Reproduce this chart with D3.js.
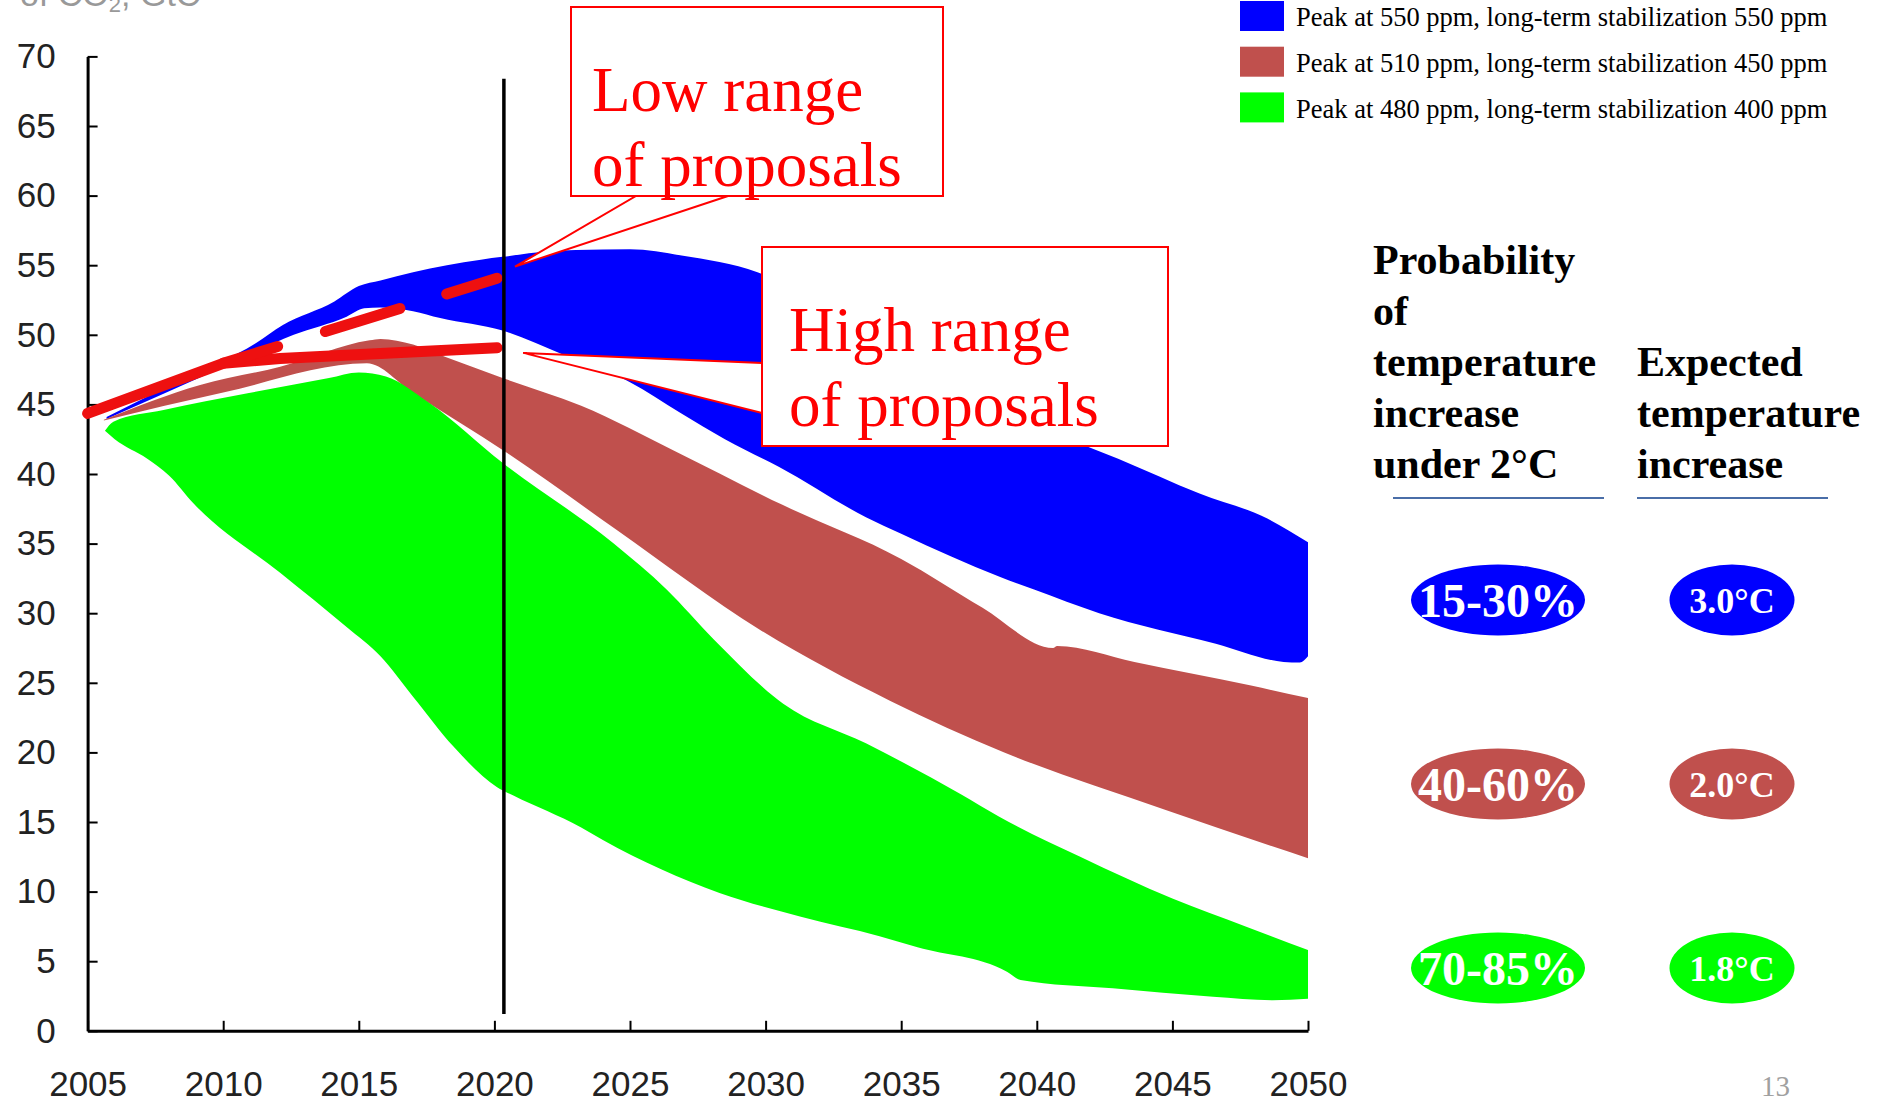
<!DOCTYPE html>
<html>
<head>
<meta charset="utf-8">
<script src="https://cdn.jsdelivr.net/npm/d3@7"></script>
<style>
  body { margin: 0; background: #fff; }
  svg { display: block; }
</style>
</head>
<body>
<svg id="chart" width="1881" height="1100"></svg>
<script>
// ---- Axis ticks ----
const xTicks = [2005, 2010, 2015, 2020, 2025, 2030, 2035, 2040, 2045, 2050];
const yTicks = [0, 5, 10, 15, 20, 25, 30, 35, 40, 45, 50, 55, 60, 65, 70];

// ---- Scenario names and colours ----
const scenarioNames = [
  "Peak at 550 ppm, long-term stabilization 550 ppm",
  "Peak at 510 ppm, long-term stabilization 450 ppm",
  "Peak at 480 ppm, long-term stabilization 400 ppm"
];
const scenarioColors = ["#0000ff", "#c0504d", "#00ff00"];

// ---- Emission corridors: [year, GtC] along upper and lower edges ----
const band550Upper = [[2005.7,44.1],[2008.5,46.8],[2011.2,49.4],[2012.2,50.7],[2014.1,52.4],[2015.0,53.5],[2015.8,53.9],
  [2017.0,54.5],[2019.5,55.4],[2020.3,55.6],[2022.0,56.0],[2023.0,56.1],[2025.0,56.15],[2026.9,55.7],[2029.7,54.5],
  [2032.0,52.4],[2035.0,49.2],[2038.0,45.8],[2040.0,43.8],[2041.6,42.2],[2043.0,41.1],[2046.0,38.6],
  [2048.5,36.8],[2050.0,35.1]];
const band550Lower = [[2005.7,43.95],[2009.9,47.6],[2012.6,50.0],[2014.55,51.3],[2015.2,51.9],[2015.8,51.97],[2017.0,51.7],
  [2018.0,51.2],[2020.3,50.3],[2022.5,48.6],[2025.0,46.6],[2026.85,44.4],[2028.5,42.5],[2030.5,40.5],[2033.7,36.9],
  [2035.0,35.7],[2038.65,32.6],[2039.9,31.7],[2042.3,30.0],[2046.6,27.8],[2049.1,26.5],[2049.7,26.45],[2050.0,26.9]];

const band450Upper = [[2005.6,43.9],[2009.15,46.4],[2012.1,47.7],[2015.4,49.6],[2015.8,49.7],[2017.0,49.3],[2018.2,48.4],
  [2020.3,46.9],[2023.2,44.9],[2026.7,41.6],[2030.6,37.8],[2035.0,33.9],[2038.0,30.4],[2040.6,27.5],
  [2040.75,27.65],[2043.6,26.5],[2047.9,24.8],[2050.0,23.9]];
const band450Lower = [[2005.6,43.85],[2010.0,45.85],[2015.3,47.95],[2017.0,45.8],[2020.4,41.6],[2024.5,36.0],
  [2029.8,28.8],[2034.6,23.7],[2038.8,20.0],[2044.7,15.9],[2050.0,12.4]];

const band400Upper = [[2005.64,43.1],[2005.95,43.76],[2007.8,44.6],[2010.9,45.8],[2013.9,46.9],[2015.0,47.3],[2016.0,47.0],
  [2017.6,45.1],[2020.3,40.8],[2024.4,35.0],[2026.35,31.7],[2028.1,28.1],[2030.65,23.5],[2033.7,20.65],[2037.2,17.0],
  [2038.6,15.4],[2041.6,12.5],[2045.0,9.5],[2047.7,7.5],[2050.0,5.8]];
const band400Lower = [[2005.64,43.1],[2006.0,42.5],[2007.2,41.1],[2008.0,39.9],[2008.9,37.9],[2012.1,32.9],[2014.55,29.0],
  [2015.8,26.9],[2017.0,24.0],[2018.5,20.4],[2020.1,17.5],[2020.7,16.9],[2023.2,14.6],[2024.0,13.7],[2028.3,9.9],
  [2031.3,8.2],[2034.2,6.8],[2035.6,6.0],[2038.9,4.25],[2039.4,3.65],[2042.8,3.05],[2046.5,2.45],[2048.7,2.2],[2050.0,2.3]];

// ---- Pledge ranges: [year, GtC] ----
const highRangePledges = [[2005,44.35],[2010,47.95],[2012.1,48.3],[2015.8,48.65],[2020.1,49.07]];
const lowRangePledges = [[2010,47.95],[2020.1,54.06]];

// ---- 2020 marker ----
const markerYear = 2020.35;
const markerSpan = [1.2, 68.4];

// ---- Callout pointer tips: [year, GtC] ----
const lowCalloutTip = [2020.76, 54.9];
const highCalloutTip = [2021.06, 48.7];
const lowCalloutText = ["Low range", "of proposals"];
const highCalloutText = ["High range", "of proposals"];

// ---- Side table ----
const probHeading = ["Probability", "of", "temperature", "increase", "under 2\u00B0C"];
const tempHeading = ["Expected", "temperature", "increase"];
const probLabels = ["15-30%", "40-60%", "70-85%"];
const tempLabels = ["3.0\u00B0C", "2.0\u00B0C", "1.8\u00B0C"];

const unitLabel = ["of CO", "2", ", GtC"];
const pageNumber = "13";

// ================= drawing =================
const svg = d3.select("#chart");
const SERIF = "'Liberation Serif', 'Times New Roman', serif";
const SANS = "'Liberation Sans', Arial, sans-serif";

const x = d3.scaleLinear().domain([2005, 2050]).range([87.6, 1308]);
const y = d3.scaleLinear().domain([0, 70]).range([1030.8, 56.4]);

// unit label, mostly above the top edge
const unit = svg.append("text").attr("x", 20).attr("y", 6)
  .attr("font-family", SANS).attr("font-size", 34).attr("fill", "#999");
unit.append("tspan").text(unitLabel[0]);
unit.append("tspan").attr("font-size", 22).attr("dy", 6).text(unitLabel[1]);
unit.append("tspan").attr("dy", -6).text(unitLabel[2]);

// corridors
const edge = d3.line().x(d => x(d[0])).y(d => y(d[1])).curve(d3.curveMonotoneX);
function corridor(upper, lower) {
  const top = edge(upper);
  const bottom = edge(lower.slice().reverse()).replace(/^M/, "L");
  return top + bottom + "Z";
}
const bands = [
  [band550Upper, band550Lower],
  [band450Upper, band450Lower],
  [band400Upper, band400Lower]
];
svg.append("g").selectAll("path").data(bands).join("path")
  .attr("d", d => corridor(d[0], d[1]))
  .attr("fill", (d, i) => scenarioColors[i]);

// axes
const yAxis = d3.axisLeft(y).tickValues(yTicks).tickSize(-10).tickSizeOuter(0).tickPadding(32);
const xAxis = d3.axisBottom(x).tickValues(xTicks).tickSize(-10).tickSizeOuter(0).tickPadding(40).tickFormat(d3.format("d"));

const gy = svg.append("g").attr("transform", `translate(${x(2005)},0)`).call(yAxis);
const gx = svg.append("g").attr("transform", `translate(0,${y(0)})`).call(xAxis);
[gx, gy].forEach(g => {
  g.select(".domain").attr("stroke", "#000").attr("stroke-width", 3);
  g.selectAll(".tick line").attr("stroke", "#000").attr("stroke-width", 2);
  g.selectAll(".tick text").attr("font-family", SANS).attr("font-size", 35).attr("fill", "#222");
});

// pledge lines
const plain = d3.line().x(d => x(d[0])).y(d => y(d[1]));
svg.append("path").datum(highRangePledges).attr("d", plain)
  .attr("fill", "none").attr("stroke", "#ee1010").attr("stroke-width", 11)
  .attr("stroke-linecap", "round").attr("stroke-linejoin", "round");
svg.append("path").datum(lowRangePledges).attr("d", plain)
  .attr("fill", "none").attr("stroke", "#ee1010").attr("stroke-width", 11)
  .attr("stroke-linecap", "round").attr("stroke-dasharray", "57 50 78 49 60");

// 2020 marker
svg.append("line")
  .attr("x1", x(markerYear)).attr("x2", x(markerYear))
  .attr("y1", y(markerSpan[0])).attr("y2", y(markerSpan[1]))
  .attr("stroke", "#000").attr("stroke-width", 3.5);

// callouts
function callout(tip, base, box, lines, textX, baselines) {
  const g = svg.append("g");
  g.append("path")
    .attr("d", `M${x(tip[0])},${y(tip[1])}L${base[0][0]},${base[0][1]}L${base[1][0]},${base[1][1]}Z`)
    .attr("fill", "#fff").attr("stroke", "#ff0000").attr("stroke-width", 2);
  g.append("rect").attr("x", box[0]).attr("y", box[1]).attr("width", box[2]).attr("height", box[3])
    .attr("fill", "#fff").attr("stroke", "#ff0000").attr("stroke-width", 2);
  g.selectAll("text").data(lines).join("text")
    .attr("x", textX).attr("y", (d, i) => baselines[i])
    .attr("font-family", SERIF).attr("font-size", 63).attr("fill", "#ff0000")
    .text(d => d);
}
callout(lowCalloutTip, [[636, 196], [728, 196]], [571, 7, 372, 189], lowCalloutText, 592, [111, 186]);
callout(highCalloutTip, [[762, 363], [762, 413]], [762, 247, 406, 199], highCalloutText, 789, [351, 426]);

// legend
const legend = svg.append("g");
scenarioNames.forEach((name, i) => {
  legend.append("rect").attr("x", 1240).attr("y", 1 + i * 45.7).attr("width", 44).attr("height", 30)
    .attr("fill", scenarioColors[i]);
  legend.append("text").attr("x", 1296).attr("y", 26 + i * 46)
    .attr("font-family", SERIF).attr("font-size", 26.5).attr("fill", "#000").text(name);
});

// side table headings
const head = svg.append("g").attr("font-family", SERIF).attr("font-weight", "bold")
  .attr("font-size", 42).attr("fill", "#000");
probHeading.forEach((t, i) => head.append("text").attr("x", 1373).attr("y", 274 + i * 51).text(t));
tempHeading.forEach((t, i) => head.append("text").attr("x", 1637).attr("y", 376 + i * 51).text(t));
svg.append("line").attr("x1", 1393).attr("x2", 1604).attr("y1", 498).attr("y2", 498)
  .attr("stroke", "#4a6ea8").attr("stroke-width", 2);
svg.append("line").attr("x1", 1637).attr("x2", 1828).attr("y1", 498).attr("y2", 498)
  .attr("stroke", "#4a6ea8").attr("stroke-width", 2);

// probability and temperature badges
const rowY = [600, 784, 968];
const badges = svg.append("g");
probLabels.forEach((t, i) => {
  badges.append("ellipse").attr("cx", 1498).attr("cy", rowY[i]).attr("rx", 87).attr("ry", 35.5)
    .attr("fill", scenarioColors[i]);
  badges.append("text").attr("x", 1498).attr("y", rowY[i] + 17).attr("text-anchor", "middle")
    .attr("font-family", SERIF).attr("font-weight", "bold").attr("font-size", 48).attr("fill", "#fff").text(t);
});
tempLabels.forEach((t, i) => {
  badges.append("ellipse").attr("cx", 1732).attr("cy", rowY[i]).attr("rx", 62.5).attr("ry", 35.5)
    .attr("fill", scenarioColors[i]);
  badges.append("text").attr("x", 1732).attr("y", rowY[i] + 13).attr("text-anchor", "middle")
    .attr("font-family", SERIF).attr("font-weight", "bold").attr("font-size", 36).attr("fill", "#fff").text(t);
});

// page number
svg.append("text").attr("x", 1790).attr("y", 1096).attr("text-anchor", "end")
  .attr("font-family", SERIF).attr("font-size", 29).attr("fill", "#a0a0a0").text(pageNumber);
</script>
</body>
</html>
